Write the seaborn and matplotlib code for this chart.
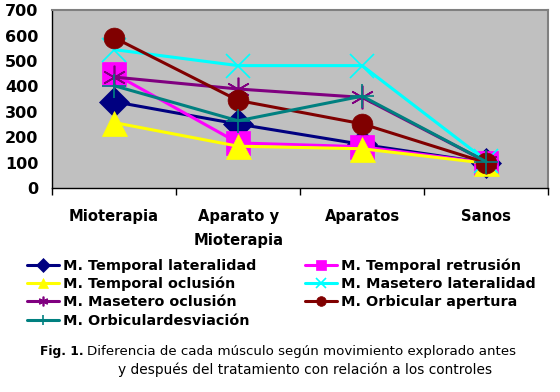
import pandas as pd
import seaborn as sns
import matplotlib.pyplot as plt
from matplotlib.ticker import FixedLocator, NullFormatter

# categories and series
groups = ['Mioterapia', 'Aparato y\nMioterapia', 'Aparatos', 'Sanos']
series = ['M. Temporal lateralidad', 'M. Temporal retrusión', 'M. Temporal oclusión',
          'M. Masetero lateralidad', 'M. Masetero oclusión', 'M. Orbicular apertura',
          'M. Orbiculardesviación']
temp_lat = [340, 252, 172, 100]
temp_ret = [450, 178, 163, 100]
temp_ocl = [258, 165, 155, 98]
mas_lat = [545, 482, 482, 108]
mas_ocl = [437, 390, 357, 104]
orb_ap = [592, 345, 253, 100]
orb_des = [403, 265, 362, 104]

colors = ['#000080', '#FF00FF', '#FFFF00', '#00FFFF', '#800080', '#800000', '#008080']
markers = ['D', 's', '^', 'x', (6, 2, 0), 'o', '+']
msizes = [15, 17, 18, 17, 17, 15, 17]

rows = []
for name, vals in zip(series, [temp_lat, temp_ret, temp_ocl, mas_lat, mas_ocl, orb_ap, orb_des]):
    for i, v in enumerate(vals):
        rows.append({'grupo': i, 'valor': v, 'musculo': name})
df = pd.DataFrame(rows)

sns.set_style('white')
plt.rcParams['font.family'] = ['DejaVu Sans']
plt.rcParams['text.color'] = 'black'

fig = plt.figure(figsize=(5.6, 3.92), dpi=100)
ax = fig.add_axes([0.093, 0.52, 0.886, 0.454])
ax.set_facecolor('#C0C0C0')

handles = []
for k, name in enumerate(series):
    sub = df[df.musculo == name]
    sns.lineplot(data=sub, x='grupo', y='valor', ax=ax, color=colors[k], marker=markers[k],
                 markersize=msizes[k], linewidth=2.2, markeredgecolor=colors[k],
                 markeredgewidth=1.2 if k in (3, 4, 6) else 0.5, label=name, legend=False)
    handles.append(ax.lines[-1])

ax.set_xlim(-0.5, 3.5)
ax.set_ylim(0, 700)
ax.set_yticks(range(0, 701, 100))
ax.xaxis.set_major_locator(FixedLocator([-0.5, 0.5, 1.5, 2.5, 3.5]))
ax.xaxis.set_major_formatter(NullFormatter())
ax.xaxis.set_minor_locator(FixedLocator([0, 1, 2, 3]))
ax.set_xticklabels(groups, minor=True, fontsize=10.6, fontweight='bold', linespacing=1.75)
ax.tick_params(axis='x', which='major', length=5, width=1, direction='out', bottom=True, color='black')
ax.tick_params(axis='x', which='minor', length=0, pad=15, labelcolor='black')
ax.tick_params(axis='y', length=0, labelsize=11.5, pad=10, labelcolor='black')
for t in ax.get_yticklabels():
    t.set_fontweight('bold')
ax.set_xlabel('')
ax.set_ylabel('')
for side in ['top', 'right']:
    ax.spines[side].set_color('#808080')
    ax.spines[side].set_linewidth(1.5)
for side in ['left', 'bottom']:
    ax.spines[side].set_color('black')
    ax.spines[side].set_linewidth(1)

# legend in two columns, same order as the reference
order = [0, 2, 4, 6, 1, 3, 5]
leg = fig.legend([handles[i] for i in order], [series[i] for i in order], ncol=2,
                 loc='upper left', bbox_to_anchor=(0.036, 0.36), frameon=False,
                 prop={'weight': 'bold', 'size': 10.4}, handlelength=2.2, handletextpad=0.25,
                 columnspacing=3.4, labelspacing=0.29, borderpad=0)
for h in leg.legend_handles:
    h.set_markersize(7)

fig.text(40 / 560, 1 - 352 / 392, 'Fig. 1.', fontsize=8.8, fontweight='bold', ha='left', va='center')
fig.text(87 / 560, 1 - 352 / 392, 'Diferencia de cada músculo según movimiento explorado antes',
         fontsize=9.6, ha='left', va='center')
fig.text(305 / 560, 1 - 370 / 392, 'y después del tratamiento con relación a los controles',
         fontsize=9.9, ha='center', va='center')

fig.savefig('out.png', dpi=100)
